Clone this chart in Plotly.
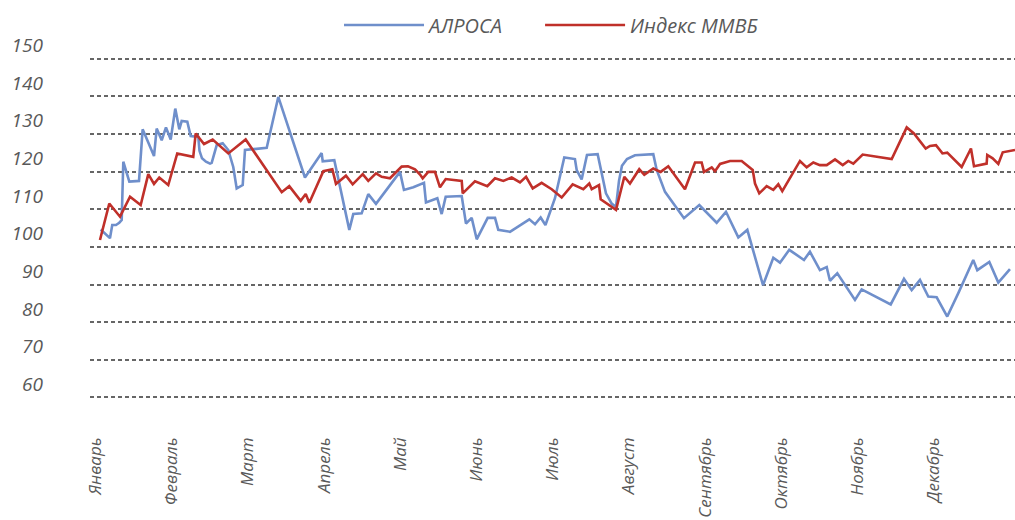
import plotly.graph_objects as go

# Month labels (category positions 0..11)
months = ["Январь", "Февраль", "Март", "Апрель", "Май", "Июнь",
          "Июль", "Август", "Сентябрь", "Октябрь", "Ноябрь", "Декабрь"]
month_pos = list(range(12))

y_ticks = [60, 70, 80, 90, 100, 110, 120, 130, 140, 150]

# АЛРОСА: x in month units (0 = January), values
alrosa_x = [0.068, 0.190, 0.220, 0.269, 0.312, 0.344, 0.365, 0.444, 0.571, 0.619,
            0.768, 0.803, 0.869, 0.925, 0.987, 1.047, 1.100, 1.131, 1.205, 1.249,
            1.349, 1.365, 1.398, 1.450, 1.503, 1.525, 1.591, 1.669, 1.743, 1.808,
            1.853, 1.932, 1.962, 2.247, 2.399, 2.749, 2.968, 2.982, 3.134, 3.331,
            3.383, 3.493, 3.580, 3.681, 3.996, 4.048, 4.171, 4.311, 4.337, 4.486,
            4.543, 4.596, 4.806, 4.862, 4.937, 5.003, 5.147, 5.243, 5.286, 5.439,
            5.693, 5.768, 5.842, 5.905, 6.030, 6.152, 6.292, 6.315, 6.380, 6.450,
            6.590, 6.699, 6.774, 6.831, 6.870, 6.909, 6.975, 7.080, 7.320, 7.365,
            7.474, 7.723, 7.924, 8.152, 8.274, 8.436, 8.554, 8.760, 8.895, 8.983,
            9.105, 9.298, 9.376, 9.507, 9.596, 9.639, 9.735, 9.967, 10.055, 10.436,
            10.610, 10.711, 10.820, 10.929, 11.039, 11.178, 11.323, 11.519, 11.572, 11.730,
            11.848, 12.001]
alrosa_y = [104.6, 102.3, 105.8, 105.8, 106.4, 107.1, 122.6, 117.3, 117.5, 131.2,
            124.1, 131.4, 128.3, 131.7, 128.5, 136.7, 131.2, 133.4, 133.2, 129.4,
            129.2, 125.5, 123.5, 122.6, 122.1, 122.3, 127.0, 127.5, 125.7, 121.2,
            115.5, 116.4, 125.7, 126.3, 139.8, 118.4, 124.9, 122.7, 123.0, 104.5,
            108.7, 108.9, 114.0, 111.4, 119.9, 115.1, 115.8, 117.0, 111.8, 112.9,
            108.7, 113.3, 113.5, 106.2, 107.7, 102.0, 107.7, 107.7, 104.5, 104.0,
            107.3, 106.0, 107.8, 105.8, 112.9, 123.7, 123.3, 120.4, 117.9, 124.4,
            124.6, 114.2, 111.5, 110.6, 117.5, 121.5, 123.3, 124.3, 124.6, 120.4,
            114.6, 107.6, 111.1, 106.4, 109.3, 102.5, 104.5, 89.8, 97.1, 95.8,
            99.2, 96.5, 98.7, 93.8, 94.6, 91.0, 93.0, 85.9, 88.7, 84.7,
            91.5, 88.5, 91.2, 86.8, 86.6, 81.5, 87.7, 96.5, 93.8, 96.0,
            90.5, 94.1]

# Индекс ММВБ
micex_x = [0.059, 0.181, 0.322, 0.453, 0.593, 0.693, 0.768, 0.837, 0.955, 1.073,
           1.283, 1.315, 1.424, 1.538, 1.743, 1.971, 2.444, 2.543, 2.693, 2.759,
           2.806, 2.990, 3.108, 3.156, 3.287, 3.375, 3.507, 3.580, 3.681, 3.756,
           3.865, 4.018, 4.101, 4.193, 4.259, 4.294, 4.367, 4.455, 4.521, 4.596,
           4.806, 4.819, 4.980, 5.142, 5.243, 5.352, 5.462, 5.571, 5.650, 5.738,
           5.855, 5.987, 6.118, 6.262, 6.402, 6.480, 6.512, 6.608, 6.630, 6.831,
           6.940, 7.014, 7.136, 7.202, 7.320, 7.417, 7.517, 7.736, 7.868, 7.955,
           7.986, 8.087, 8.130, 8.196, 8.327, 8.480, 8.625, 8.655, 8.711, 8.808,
           8.895, 8.961, 9.013, 9.245, 9.333, 9.420, 9.507, 9.596, 9.705, 9.806,
           9.879, 9.945, 10.068, 10.449, 10.646, 10.741, 10.895, 10.951, 11.030, 11.115,
           11.178, 11.367, 11.489, 11.529, 11.695, 11.703, 11.774, 11.848, 11.906, 12.067]
micex_y = [101.8, 111.5, 108.0, 113.3, 111.1, 119.3, 116.7, 118.4, 116.4, 124.8,
           123.9, 130.1, 127.3, 128.5, 124.8, 128.5, 114.5, 116.1, 112.2, 114.0,
           111.7, 120.1, 120.6, 116.7, 118.9, 116.6, 119.3, 117.5, 119.5, 118.6,
           118.2, 121.3, 121.4, 120.6, 119.2, 118.2, 119.9, 119.9, 115.8, 118.0,
           117.5, 114.2, 117.4, 116.1, 118.2, 117.5, 118.4, 117.1, 118.6, 115.5,
           117.0, 115.3, 113.1, 116.6, 115.3, 116.8, 115.3, 116.4, 112.6, 109.8,
           118.6, 116.8, 120.6, 119.1, 120.8, 119.9, 121.4, 115.3, 122.4, 122.4,
           119.9, 121.1, 120.1, 122.0, 122.8, 122.8, 120.4, 116.8, 114.2, 116.1,
           115.1, 116.6, 114.8, 122.8, 121.1, 122.4, 121.7, 121.7, 123.2, 121.7,
           122.8, 122.1, 124.5, 123.3, 131.7, 130.1, 126.1, 126.8, 127.0, 124.8,
           125.0, 121.2, 126.1, 121.4, 122.1, 124.4, 123.5, 122.0, 125.1, 125.7]

BLUE = "#6F8FCB"
RED = "#C0302A"
GREY = "#595959"
FONT = "Open Sans"
NB = "\u00a0"

fig = go.Figure()
fig.add_trace(go.Scatter(x=alrosa_x, y=alrosa_y, mode="lines", name="АЛРОСА" + NB * 6,
                         line=dict(color=BLUE, width=2.6)))
fig.add_trace(go.Scatter(x=micex_x, y=micex_y, mode="lines", name="Индекс ММВБ",
                         line=dict(color=RED, width=2.6)))

fig.update_layout(
    width=1015, height=520,
    margin=dict(l=90, r=0, t=57, b=121, pad=0, autoexpand=False),
    paper_bgcolor="white", plot_bgcolor="white",
    font=dict(family=FONT, color=GREY, style="italic"),
    showlegend=True,
    legend=dict(orientation="h", x=0.334, xanchor="left", xref="container",
                y=0.952, yanchor="middle", yref="container",
                font=dict(size=20, color=GREY, family=FONT, style="italic"),
                itemwidth=80,
                bgcolor="rgba(0,0,0,0)", traceorder="normal"),
    xaxis=dict(range=[-0.072, 12.067], tickmode="array", tickvals=month_pos,
               ticktext=months, tickangle=-90, showgrid=False, zeroline=False,
               showline=False, ticks="", ticklabelstandoff=34, automargin=False,
               tickfont=dict(size=17, color=GREY, family=FONT, style="italic")),
    yaxis=dict(range=[59.6, 150.4], tickmode="array", tickvals=y_ticks,
               showgrid=True, gridcolor="#666666", gridwidth=1.6, griddash="4px,3px",
               zeroline=False, showline=False, ticks="", ticklabelstandoff=46,
               ticklabelposition="outside top", automargin=False,
               tickfont=dict(size=19, color=GREY, family=FONT, style="italic")),
)

fig.write_html("out.html", config={"displayModeBar": False},
               post_script="document.body.style.margin='0';document.body.style.overflow='hidden';")
